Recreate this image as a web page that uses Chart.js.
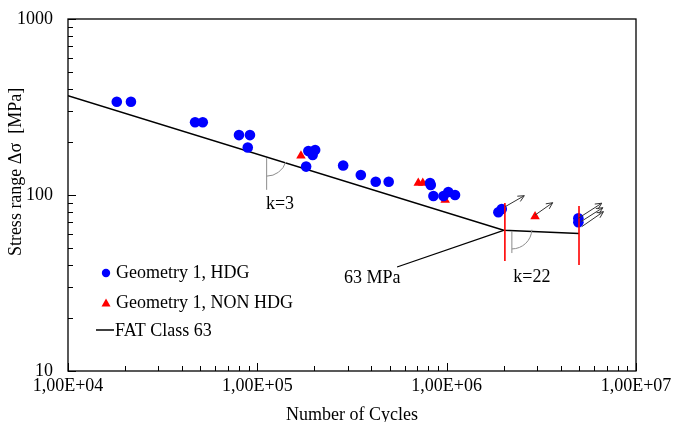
<!DOCTYPE html>
<html>
<head>
<meta charset="utf-8">
<script src="https://cdn.jsdelivr.net/npm/chart.js@4.4.1/dist/chart.umd.min.js"></script>
<style>
  html, body { margin: 0; padding: 0; background: #fff; }
</style>
</head>
<body>
<canvas id="chart-sn" width="675" height="422"></canvas>
<script>
// Geometry 1, HDG (cycles, stress range MPa)
const hdgCycles = [18100, 21500, 46900, 51500, 80000, 91400, 89000, 186000, 202000, 196000,
                   181000, 284000, 352000, 422000, 494000, 817000, 824000, 851000, 962000,
                   1020000, 1107000, 1875000, 1954000, 4960000, 4960000];
const hdgStress = [339, 339, 259, 259, 219, 219, 186, 178, 180, 169,
                   145, 147, 130, 119, 119, 117, 114, 98.7, 98.7,
                   104, 100, 79.8, 83.2, 73.8, 70.0];

// Geometry 1, NON HDG
const nonCycles = [170000, 708000, 748000, 982000, 2930000];
const nonStress = [167, 117, 117, 93.8, 75.4];

// FAT Class 63 curve (k=3 up to knee, k=22 after)
const fatCycles = [10000, 2000000, 5000000];
const fatStress = [366, 63, 60.4];

// run-out arrows
const arrowFromCycles = [2040000, 2930000, 4960000, 5110000, 5170000];
const arrowFromStress = [85.9, 76.9, 73.8, 70.5, 66.1];
const arrowToCycles = [2570000, 3630000, 6590000, 6680000, 6730000];
const arrowToStress = [99.1, 90.4, 89.8, 84.7, 80.4];

// red limit lines
const limitCycles = [2030000, 5000000];
const limitTop = [90.1, 86.6];
const limitBottom = [42.2, 40.0];

// "63 MPa" leader
const leaderCycles = [547000, 2000000];
const leaderStress = [39.0, 63];

// slope indicators
const slopeCycles = [112000, 2210000];
const slopeTop = [162, 62.5];
const slopeBottom = [107, 46.8];
const slopeLabels = ['k=3', 'k=22'];
const slopeLabelCycles = [131800, 2820000];
const slopeLabelStress = [88.9, 34.2];

const kneeLabel = '63 MPa';
const kneeLabelCycles = 404000;
const kneeLabelStress = 33.7;

const xTickLabels = ['1,00E+04', '1,00E+05', '1,00E+06', '1,00E+07'];
const yTickLabels = ['10', '100', '1000'];

const seriesLabels = ['Geometry 1, HDG', 'Geometry 1, NON HDG', 'FAT Class 63'];
const yTitle = 'Stress range \u0394\u03c3  [MPa]';

const FONT = "'Liberation Serif', 'Times New Roman', serif";
Chart.defaults.font.family = FONT;
Chart.defaults.font.size = 18;
Chart.defaults.color = '#000';

const pts = (xs, ys) => xs.map((x, i) => ({ x, y: ys[i] }));

function keepIntegerMantissa(scale) {
    scale.ticks = scale.ticks.filter(t => {
        const m = t.value / Math.pow(10, Math.floor(Math.log10(t.value) + 1e-9));
        return Math.abs(m - Math.round(m)) < 1e-6;
    });
}

function decadeLabel(labels, minExp) {
    return function (value) {
        const e = Math.log10(value);
        if (Math.abs(e - Math.round(e)) > 1e-9) return '';
        return labels[Math.round(e) - minExp] || '';
    };
}

const overlay = {
    id: 'overlay',
    afterDatasetsDraw(chart) {
        const { ctx, chartArea: a, scales: { x, y } } = chart;
        ctx.save();

        // slope indicators (gray vertical + arc)
        ctx.strokeStyle = '#8c8c8c';
        ctx.lineWidth = 1;
        const segAngle = (i) => {
            const dx = x.getPixelForValue(fatCycles[i + 1]) - x.getPixelForValue(fatCycles[i]);
            const dy = y.getPixelForValue(fatStress[i + 1]) - y.getPixelForValue(fatStress[i]);
            return Math.atan2(dy, dx);
        };
        slopeCycles.forEach((c, i) => {
            const px = x.getPixelForValue(c);
            const top = y.getPixelForValue(slopeTop[i]);
            const bot = y.getPixelForValue(slopeBottom[i]);
            ctx.beginPath();
            ctx.moveTo(px, top);
            ctx.lineTo(px, bot);
            ctx.stroke();
            ctx.beginPath();
            ctx.arc(px, top - 2, 20, segAngle(i), Math.PI / 2);
            ctx.stroke();
        });

        // arrows
        ctx.strokeStyle = '#333';
        ctx.lineWidth = 1;
        arrowFromCycles.forEach((c, i) => {
            const x0 = x.getPixelForValue(c), y0 = y.getPixelForValue(arrowFromStress[i]);
            const x1 = x.getPixelForValue(arrowToCycles[i]), y1 = y.getPixelForValue(arrowToStress[i]);
            const ang = Math.atan2(y1 - y0, x1 - x0);
            const h = 7;
            ctx.beginPath();
            ctx.moveTo(x0, y0);
            ctx.lineTo(x1, y1);
            ctx.moveTo(x1 - h * Math.cos(ang - 0.45), y1 - h * Math.sin(ang - 0.45));
            ctx.lineTo(x1, y1);
            ctx.lineTo(x1 - h * Math.cos(ang + 0.45), y1 - h * Math.sin(ang + 0.45));
            ctx.stroke();
        });

        // text labels
        ctx.fillStyle = '#000';
        ctx.font = '18px ' + FONT;
        ctx.textAlign = 'center';
        ctx.textBaseline = 'middle';
        slopeLabels.forEach((t, i) => {
            ctx.fillText(t, x.getPixelForValue(slopeLabelCycles[i]), y.getPixelForValue(slopeLabelStress[i]));
        });
        ctx.fillText(kneeLabel, x.getPixelForValue(kneeLabelCycles), y.getPixelForValue(kneeLabelStress));

        // y axis title (sits above the axis centre in the original)
        ctx.save();
        ctx.translate(16, a.top + 153);
        ctx.rotate(-Math.PI / 2);
        ctx.fillText(yTitle, 0, 0);
        ctx.restore();

        // inward tick marks
        ctx.strokeStyle = '#000';
        ctx.lineWidth = 1;
        ctx.beginPath();
        x.ticks.forEach(t => {
            const px = Math.round(x.getPixelForValue(t.value)) + 0.5;
            const len = Number.isInteger(Math.log10(t.value)) ? 8 : 5;
            ctx.moveTo(px, a.bottom);
            ctx.lineTo(px, a.bottom - len);
        });
        y.ticks.forEach(t => {
            const py = Math.round(y.getPixelForValue(t.value)) + 0.5;
            const len = Number.isInteger(Math.log10(t.value)) ? 8 : 5;
            ctx.moveTo(a.left, py);
            ctx.lineTo(a.left + len, py);
        });
        ctx.stroke();

        // frame
        ctx.lineWidth = 1.3;
        ctx.strokeRect(a.left, a.top, a.right - a.left, a.bottom - a.top);

        // legend
        const lx = a.left + 38, tx = a.left + 48;
        const rows = [a.top + 254, a.top + 284, a.top + 311];
        ctx.textAlign = 'left';
        ctx.fillStyle = '#0000ff';
        ctx.beginPath();
        ctx.arc(lx, rows[0], 4.2, 0, Math.PI * 2);
        ctx.fill();
        ctx.fillStyle = '#ff0000';
        ctx.beginPath();
        ctx.moveTo(lx, rows[1] - 4.5);
        ctx.lineTo(lx + 4.5, rows[1] + 3.5);
        ctx.lineTo(lx - 4.5, rows[1] + 3.5);
        ctx.closePath();
        ctx.fill();
        ctx.strokeStyle = '#000';
        ctx.lineWidth = 1.5;
        ctx.beginPath();
        ctx.moveTo(lx - 10, rows[2]);
        ctx.lineTo(lx + 8, rows[2]);
        ctx.stroke();
        ctx.fillStyle = '#000';
        ctx.fillText(seriesLabels[0], tx, rows[0]);
        ctx.fillText(seriesLabels[1], tx, rows[1]);
        ctx.fillText(seriesLabels[2], tx - 1, rows[2] + 1);

        ctx.restore();
    }
};

new Chart(document.getElementById('chart-sn'), {
    type: 'scatter',
    data: {
        datasets: [
            {
                type: 'line', label: 'limit1', data: pts([limitCycles[0], limitCycles[0]], [limitTop[0], limitBottom[0]]),
                borderColor: '#ff0000', borderWidth: 1.6, pointRadius: 0, order: 0
            },
            {
                type: 'line', label: 'limit2', data: pts([limitCycles[1], limitCycles[1]], [limitTop[1], limitBottom[1]]),
                borderColor: '#ff0000', borderWidth: 1.6, pointRadius: 0, order: 0
            },
            {
                label: seriesLabels[0], data: pts(hdgCycles, hdgStress),
                pointStyle: 'circle', pointRadius: 5.3, backgroundColor: '#0000ff', borderWidth: 0, order: 1
            },
            {
                label: seriesLabels[1], data: pts(nonCycles, nonStress),
                pointStyle: 'triangle', pointRadius: 5.5, backgroundColor: '#ff0000', borderWidth: 0, order: 1
            },
            {
                type: 'line', label: seriesLabels[2], data: pts(fatCycles, fatStress),
                borderColor: '#000', borderWidth: 1.5, pointRadius: 0, tension: 0, order: 2
            },
            {
                type: 'line', label: 'leader', data: pts(leaderCycles, leaderStress),
                borderColor: '#000', borderWidth: 1.2, pointRadius: 0, order: 2
            }
        ]
    },
    options: {
        responsive: false,
        animation: false,
        layout: { padding: { top: 19, right: 39, left: 0, bottom: 0 } },
        plugins: {
            legend: { display: false },
            tooltip: { enabled: false }
        },
        scales: {
            x: {
                type: 'logarithmic',
                min: 1e4, max: 1e7,
                grid: { display: false, drawTicks: false },
                border: { display: false },
                afterBuildTicks: keepIntegerMantissa,
                afterFit: s => { s.height = 51; s.paddingLeft = 0; s.paddingRight = 0; },
                ticks: { autoSkip: false, maxRotation: 0, padding: 4, callback: decadeLabel(xTickLabels, 4) },
                title: { display: true, text: 'Number of Cycles', padding: { top: 0, bottom: -4 } }
            },
            y: {
                type: 'logarithmic',
                min: 10, max: 1000,
                grid: { display: false, drawTicks: false },
                border: { display: false },
                afterBuildTicks: keepIntegerMantissa,
                afterFit: s => { s.width = 68; s.paddingTop = 0; s.paddingBottom = 0; },
                ticks: { autoSkip: false, padding: 15, callback: decadeLabel(yTickLabels, 1) }
            }
        }
    },
    plugins: [overlay]
});
</script>
</body>
</html>
